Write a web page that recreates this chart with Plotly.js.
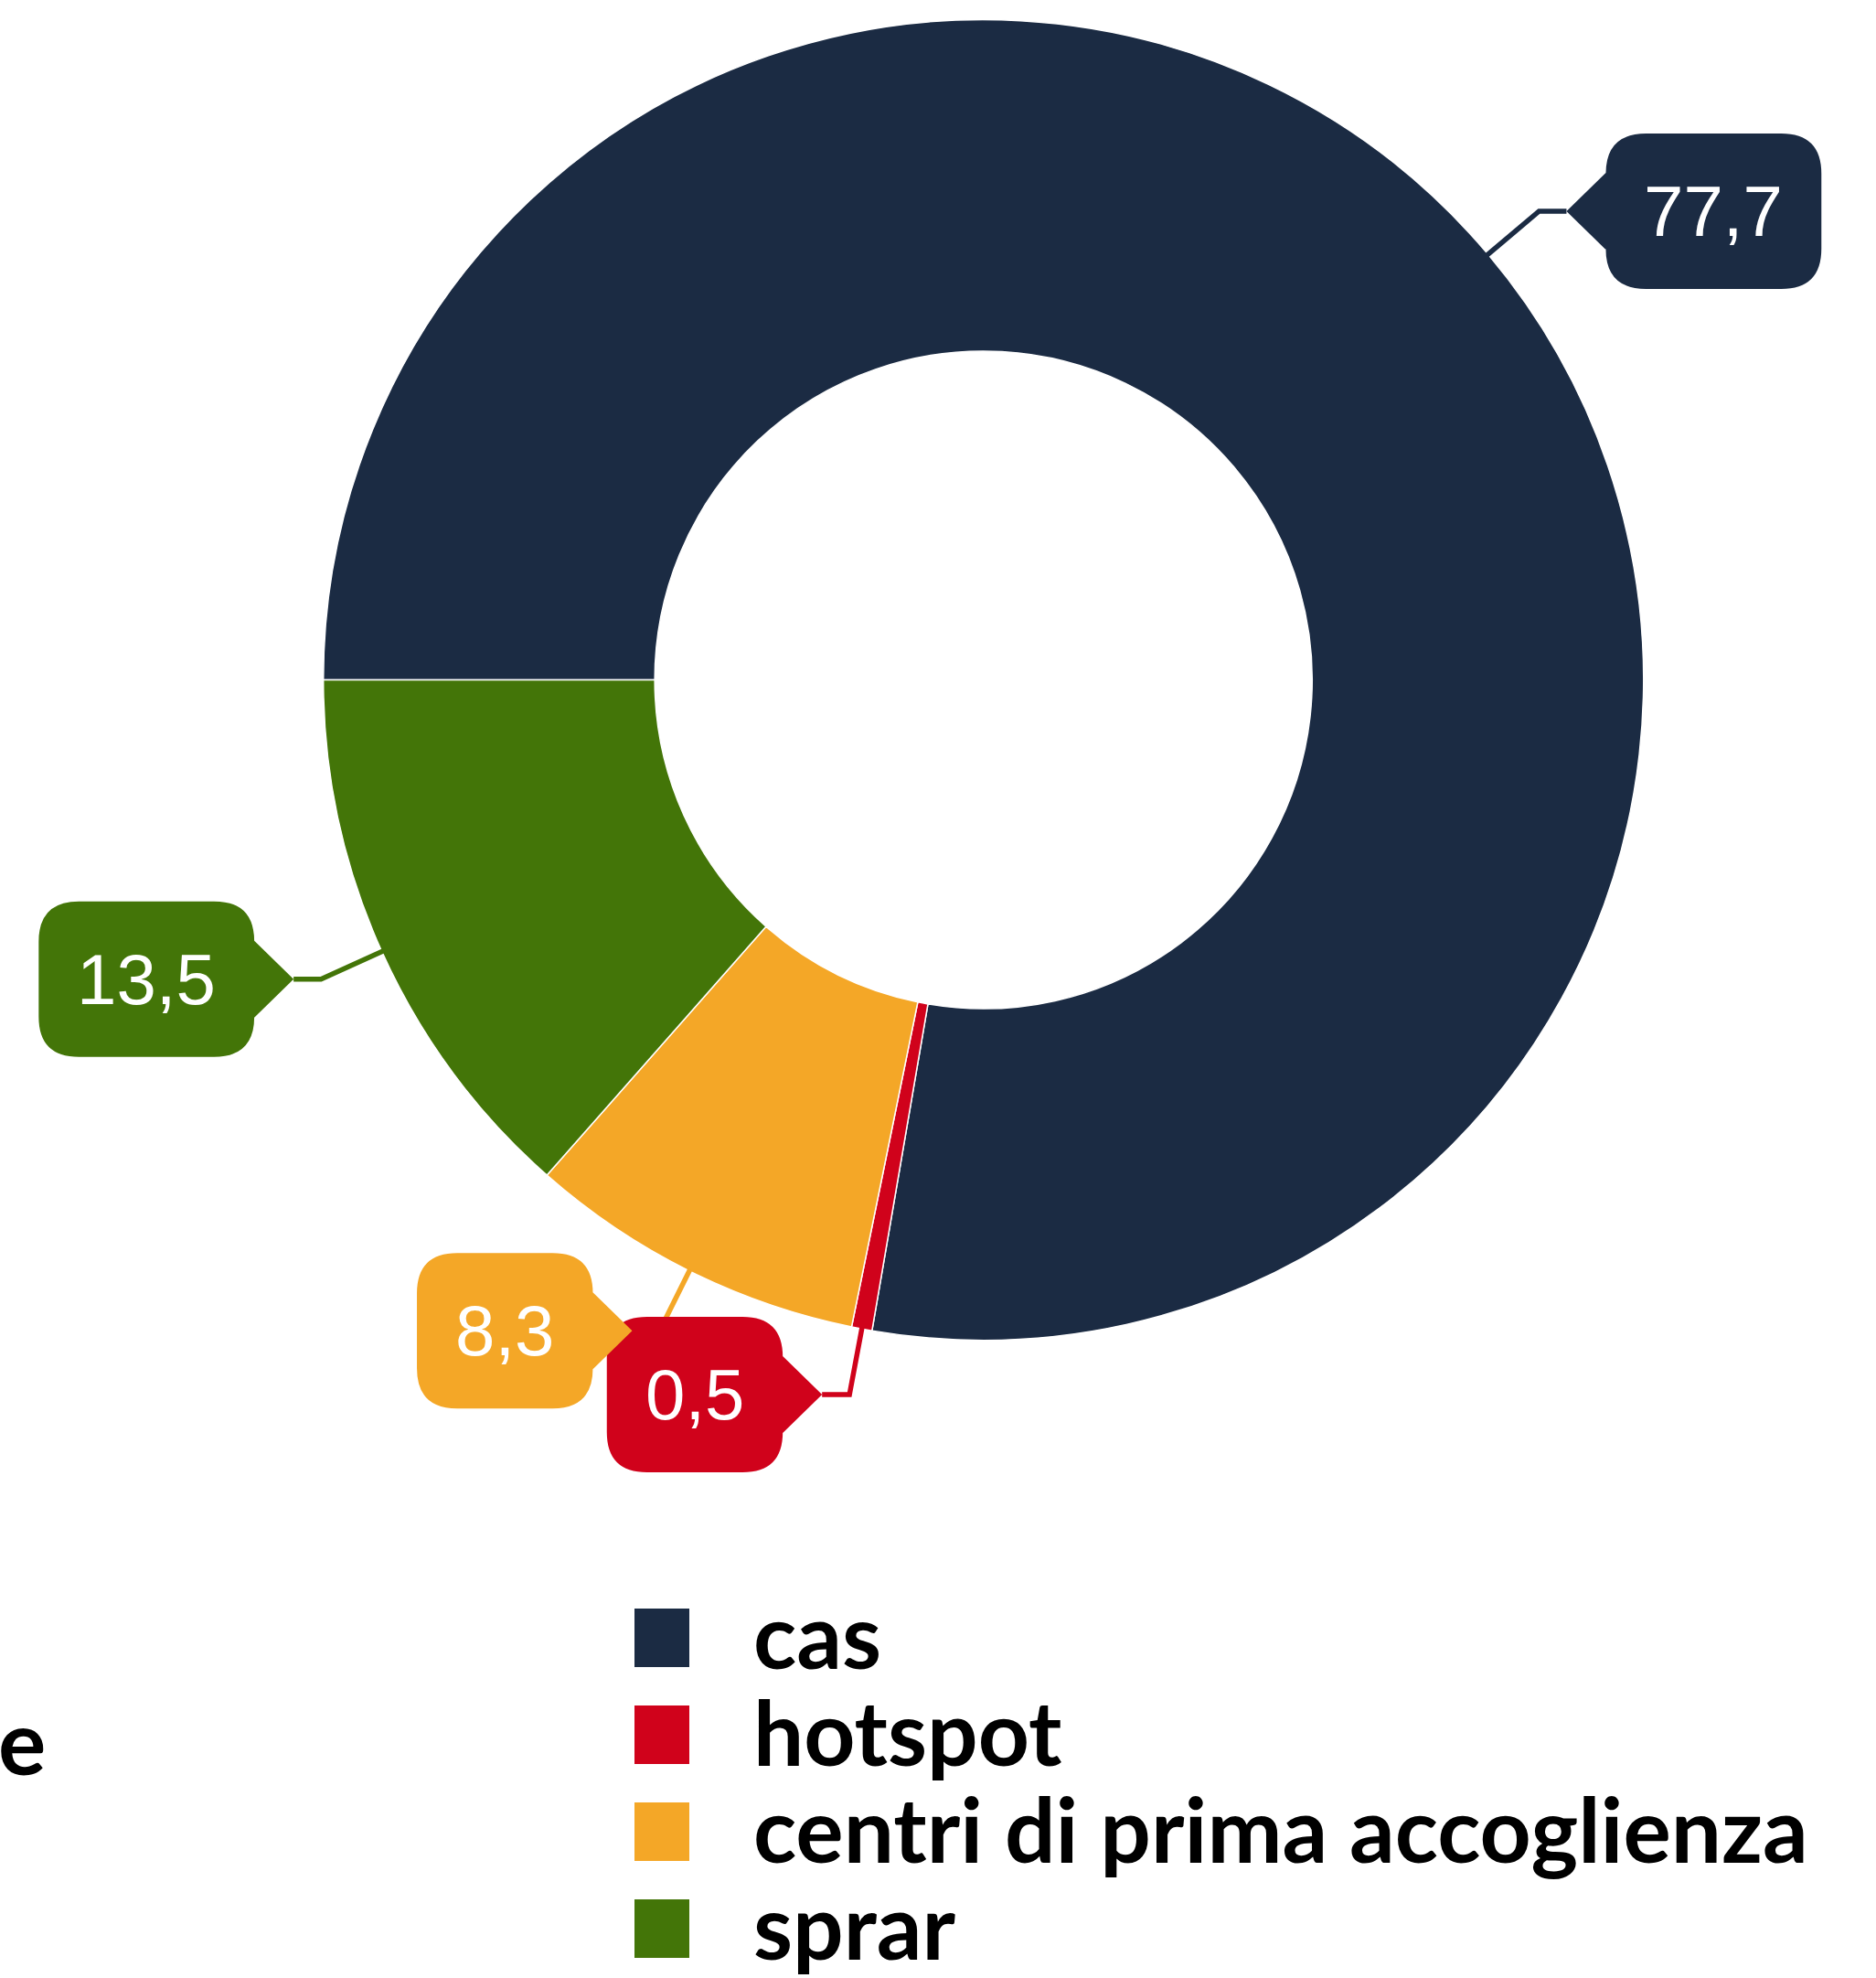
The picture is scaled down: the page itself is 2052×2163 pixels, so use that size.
<!DOCTYPE html>
<html>
<head>
<meta charset="utf-8">
<script src="https://cdn.plot.ly/plotly-3.0.1.min.js"></script>
<style>
  html, body { margin: 0; padding: 0; background: #ffffff; }
  #chart { width: 2052px; height: 2163px; }
</style>
</head>
<body>
<div id="chart"></div>
<script>
// ---------------- data ----------------
const categories = ['cas', 'hotspot', 'centri di prima accoglienza', 'sprar'];
const values = [77.7, 0.5, 8.3, 13.5];
const valueLabels = ['77,7', '0,5', '8,3', '13,5'];
const legendTitle = 'e';

// ---------------- styles ----------------
const colors = ['#1b2b43', '#d0021b', '#f4a727', '#437508'];

const W = 2052, H = 2163;
const CX = 1075.7, CY = 743.5, R = 722;   // pie centre / radius in px
const HOLE = 0.498;
const ROTATION = -90;                      // first slice starts at 9 o'clock

const LABEL_FONT = 78;
const LABEL_FAMILY = '"Liberation Sans", Arial, sans-serif';
const RADIAL = 73, HORIZ = 30, POINT_DEPTH = 43, POINT_HALF = 42;
const BOX_H = 170, BOX_PAD = 42, BOX_R = 44;

const px = x => x / W;
const py = y => 1 - y / H;

function textWidth(t, font) {
  try {
    const c = document.createElement('canvas').getContext('2d');
    c.font = font;
    return c.measureText(t).width;
  } catch (e) { return t.length * 0.5 * LABEL_FONT; }
}

const shapes = [];
const annotations = [];

// connectors first
const total = values.reduce((a, b) => a + b, 0);
let cum = 0;
const labelGeom = [];
values.forEach((v, i) => {
  const mid = ROTATION + 360 * (cum + v / 2) / total;
  cum += v;
  const t = mid * Math.PI / 180;
  const s = Math.sin(t), c = Math.cos(t);
  const ax = CX + (R - 2) * s, ay = CY - (R - 2) * c;
  const ex = CX + (R + RADIAL) * s, ey = CY - (R + RADIAL) * c;
  const side = s >= 0 ? 1 : -1;
  const tx = ex + side * HORIZ, ty = ey;
  labelGeom.push({ tx, ty, side });
  shapes.push({
    type: 'path', xref: 'paper', yref: 'paper', layer: 'above',
    path: `M${px(ax)},${py(ay)} L${px(ex)},${py(ey)} L${px(tx)},${py(ty)}`,
    line: { color: colors[i], width: 5.5 },
    fillcolor: 'rgba(0,0,0,0)'
  });
});

// label boxes with pointer
values.forEach((v, i) => {
  const g = labelGeom[i];
  const tw = textWidth(valueLabels[i], `${LABEL_FONT}px "Liberation Sans"`);
  const w = tw + 2 * BOX_PAD;
  const X = u => g.tx + g.side * u;
  const near = POINT_DEPTH, far = POINT_DEPTH + w;
  const yt = g.ty - BOX_H / 2, yb = g.ty + BOX_H / 2;
  const pts = [
    ['M', X(0), g.ty],
    ['L', X(near), g.ty - POINT_HALF],
    ['L', X(near), yt + BOX_R],
    ['Q', X(near), yt, X(near + BOX_R), yt],
    ['L', X(far - BOX_R), yt],
    ['Q', X(far), yt, X(far), yt + BOX_R],
    ['L', X(far), yb - BOX_R],
    ['Q', X(far), yb, X(far - BOX_R), yb],
    ['L', X(near + BOX_R), yb],
    ['Q', X(near), yb, X(near), yb - BOX_R],
    ['L', X(near), g.ty + POINT_HALF]
  ];
  let path = '';
  pts.forEach(p => {
    path += p[0];
    const coords = [];
    for (let k = 1; k < p.length; k += 2) coords.push(`${px(p[k])},${py(p[k + 1])}`);
    path += coords.join(' ') + ' ';
  });
  path += 'Z';
  shapes.push({
    type: 'path', xref: 'paper', yref: 'paper', layer: 'above',
    path: path, fillcolor: colors[i], line: { width: 0 }
  });
  annotations.push({
    xref: 'paper', yref: 'paper', showarrow: false,
    x: px(X(near + w / 2)), y: py(g.ty), xanchor: 'center', yanchor: 'middle',
    text: valueLabels[i],
    font: { family: LABEL_FAMILY, size: LABEL_FONT, color: '#ffffff' }
  });
});

// legend (drawn manually so the swatches can be large)
const LEG_X0 = 694, LEG_SW = 60, LEG_SH = 64, LEG_TX = 822;
const LEG_Y0 = 1791, LEG_DY = 106;
const LEG_FONT = { family: 'Lato, "Open Sans", sans-serif', size: 98, color: '#000000', weight: 'bold' };
categories.forEach((cat, i) => {
  const yc = LEG_Y0 + i * LEG_DY;
  shapes.push({
    type: 'rect', xref: 'paper', yref: 'paper', layer: 'above',
    x0: px(LEG_X0), x1: px(LEG_X0 + LEG_SW),
    y0: py(yc - LEG_SH / 2), y1: py(yc + LEG_SH / 2),
    fillcolor: colors[i], line: { width: 0 }
  });
  annotations.push({
    xref: 'paper', yref: 'paper', showarrow: false,
    x: px(LEG_TX), y: py(yc - 4), xanchor: 'left', yanchor: 'middle',
    text: cat, font: LEG_FONT
  });
});
annotations.push({
  xref: 'paper', yref: 'paper', showarrow: false,
  x: px(52), y: py(1903), xanchor: 'right', yanchor: 'middle',
  text: legendTitle, font: LEG_FONT
});

const trace = {
  type: 'pie',
  labels: categories,
  values: values,
  hole: HOLE,
  sort: false,
  direction: 'clockwise',
  rotation: ROTATION,
  textinfo: 'none',
  hoverinfo: 'label+value',
  marker: { colors: colors, line: { color: '#ffffff', width: 1.5 } },
  domain: {
    x: [px(CX - R), px(CX + R)],
    y: [py(CY + R), py(CY - R)]
  }
};

const layout = {
  width: W, height: H,
  margin: { l: 0, r: 0, t: 0, b: 0, pad: 0 },
  paper_bgcolor: '#ffffff',
  plot_bgcolor: '#ffffff',
  showlegend: false,
  shapes: shapes,
  annotations: annotations
};

Plotly.newPlot('chart', [trace], layout, { staticPlot: true, displayModeBar: false });
</script>
</body>
</html>
